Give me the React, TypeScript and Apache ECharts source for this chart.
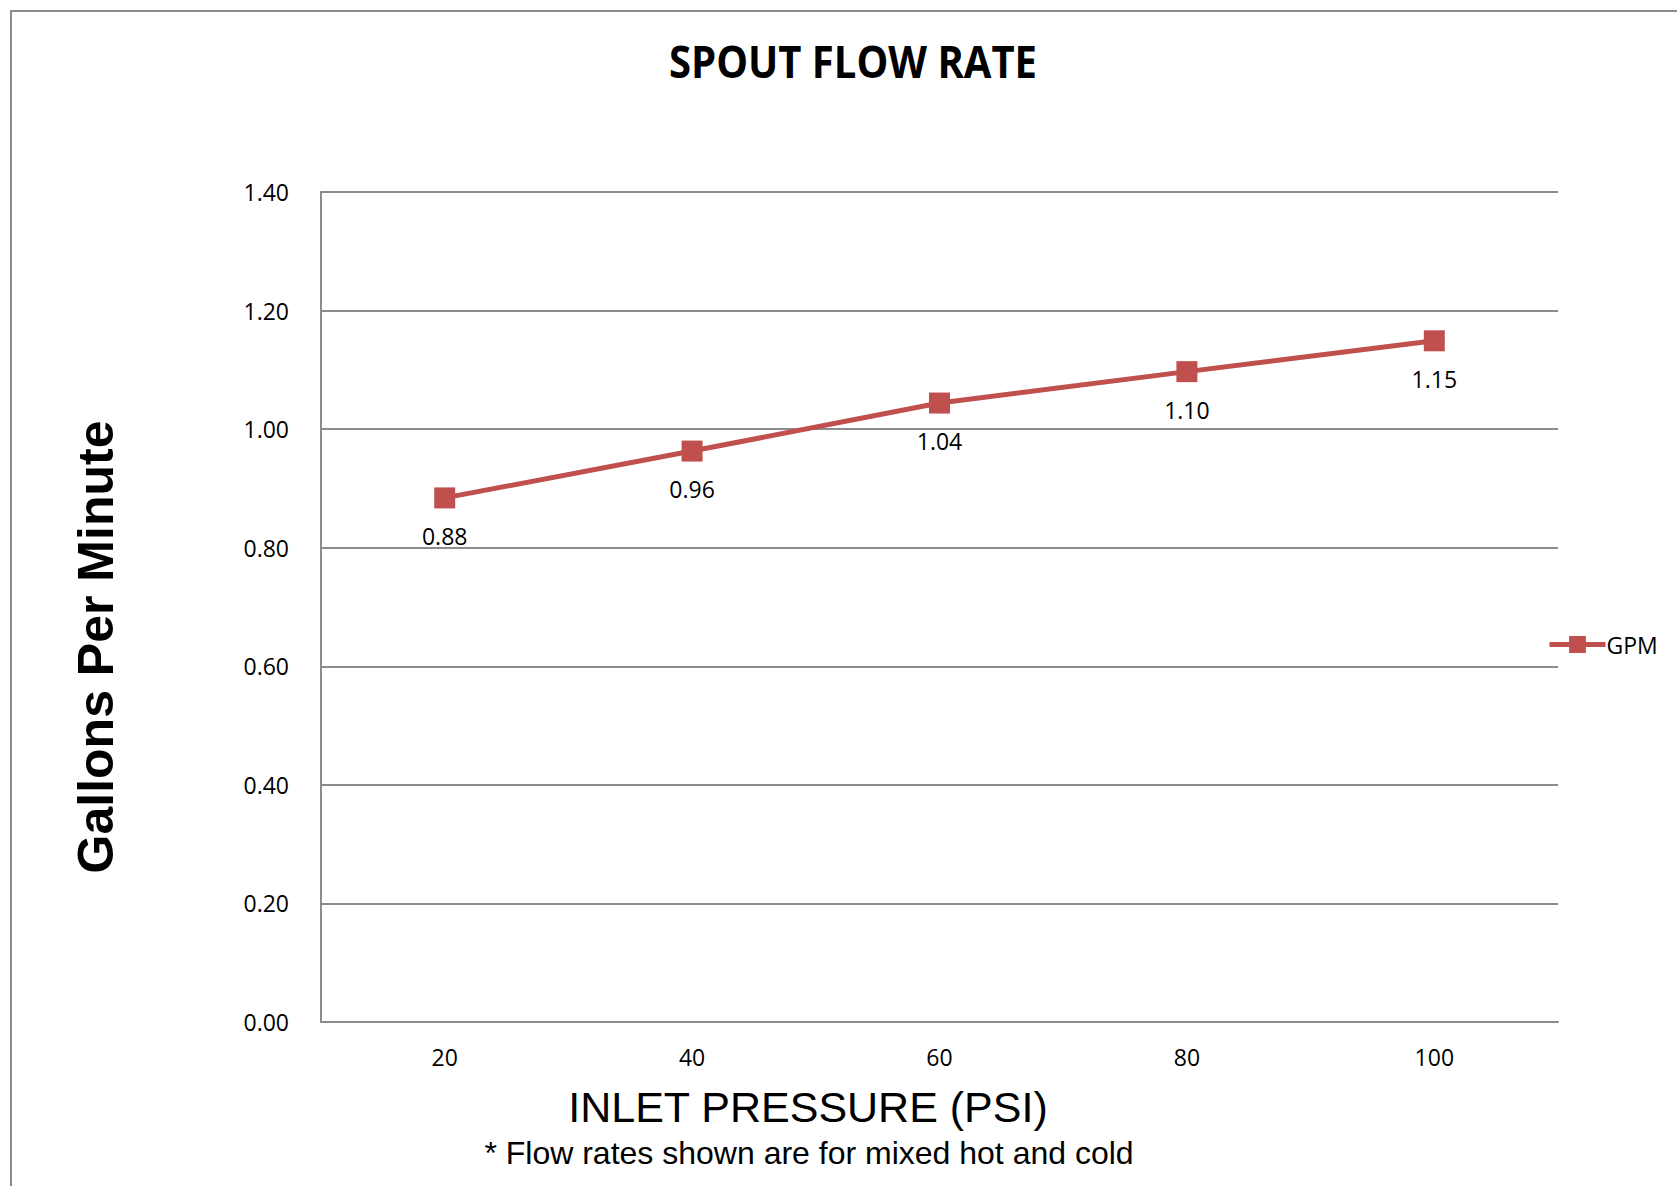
import React, { useEffect, useRef } from "react";
import * as echarts from "echarts";

const categories = ["20", "40", "60", "80", "100"];
const gpmValues = [0.884, 0.963, 1.044, 1.097, 1.149];
const seriesName = "GPM";
const titleText = "SPOUT FLOW RATE";
const xTitle = "INLET PRESSURE (PSI)";
const yTitle = "Gallons Per Minute";
const footnote = "* Flow rates shown are for mixed hot and cold";

export default function App() {
  const ref = useRef<HTMLDivElement>(null);
  useEffect(() => {
    if (!ref.current) return;
    const chart = echarts.init(ref.current, undefined, { renderer: "svg" });
    const red = "#C0504D";
    const grey = "#8c8c8c";
    chart.setOption({
      animation: false,
      backgroundColor: "#ffffff",
      legend: {
        data: [seriesName],
        orient: "vertical",
        left: 1542,
        top: 628,
        itemWidth: 56,
        itemHeight: 21,
        itemGap: 4,
        lineStyle: { width: 5 },
        textStyle: { fontFamily: "Open Sans", fontSize: 23, color: "#000", padding: [0, 0, 0, -4] },
      },
      grid: { left: 321, right: 119, top: 192, bottom: 164, containLabel: false },
      xAxis: {
        type: "category",
        data: categories,
        boundaryGap: true,
        axisLine: { show: true, lineStyle: { color: grey, width: 2 } },
        axisTick: { show: false },
        axisLabel: { fontFamily: "Open Sans", fontSize: 23, color: "#000", margin: 23 },
      },
      yAxis: {
        type: "value",
        min: 0,
        max: 1.4,
        interval: 0.2,
        axisLine: { show: true, lineStyle: { color: grey, width: 2 } },
        axisTick: { show: false },
        splitLine: { show: true, lineStyle: { color: grey, width: 2 } },
        axisLabel: {
          fontFamily: "Open Sans",
          fontSize: 23,
          color: "#000",
          margin: 32,
          formatter: (v: number) => v.toFixed(2),
        },
      },
      graphic: [
        {
          type: "rect",
          shape: { x: 11, y: 11, width: 1800, height: 1300 },
          style: { fill: "none", stroke: grey, lineWidth: 2 },
          silent: true,
        },
        {
          type: "text",
          x: 853,
          y: 60,
          scaleX: 0.89,
          style: {
            text: titleText,
            fontFamily: "Open Sans",
            fontWeight: "bold",
            fontSize: 45,
            fill: "#000",
            textAlign: "center",
            textVerticalAlign: "middle",
          },
        },
        {
          type: "text",
          x: 808,
          y: 1107,
          style: {
            text: xTitle,
            fontFamily: "Liberation Sans",
            fontSize: 43,
            fill: "#000",
            textAlign: "center",
            textVerticalAlign: "middle",
          },
        },
        {
          type: "text",
          x: 96,
          y: 647,
          rotation: Math.PI / 2,
          style: {
            text: yTitle,
            fontFamily: "Liberation Sans",
            fontWeight: "bold",
            fontSize: 50,
            fill: "#000",
            textAlign: "center",
            textVerticalAlign: "middle",
          },
        },
        {
          type: "text",
          x: 809,
          y: 1153,
          style: {
            text: footnote,
            fontFamily: "Liberation Sans",
            fontSize: 32,
            fill: "#000",
            textAlign: "center",
            textVerticalAlign: "middle",
          },
        },
      ],
      series: [
        {
          name: seriesName,
          type: "line",
          data: gpmValues,
          symbol: "rect",
          symbolSize: 21,
          lineStyle: { color: red, width: 5 },
          itemStyle: { color: red },
          label: {
            show: true,
            position: "bottom",
            distance: 16,
            fontFamily: "Open Sans",
            fontSize: 23,
            color: "#000",
            formatter: (p: any) => Number(p.value).toFixed(2),
          },
        },
      ],
    });
    return () => chart.dispose();
  }, []);
  return (
    <div
      ref={ref}
      style={{ position: "fixed", left: 0, top: 0, width: 1677, height: 1186 }}
    />
  );
}
